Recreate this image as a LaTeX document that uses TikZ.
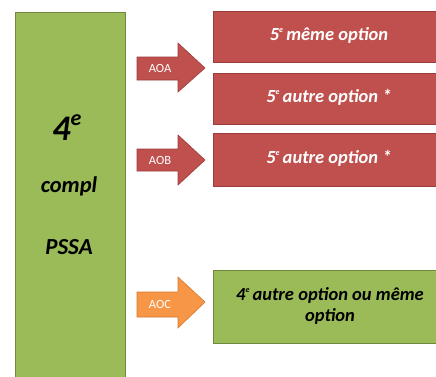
\documentclass[tikz,border=0pt]{standalone}
\usepackage{fontspec}
\setmainfont{Carlito}
\definecolor{offred}{HTML}{C0504D}
\definecolor{offredd}{HTML}{9A3D3A}
\definecolor{offgreen}{HTML}{9BBB59}
\definecolor{offgreend}{HTML}{71893F}
\definecolor{offorange}{HTML}{F79646}
\definecolor{offoranged}{HTML}{D7782E}
\newcommand{\supE}{\raisebox{8pt}{\fontsize{8}{8}\selectfont e}\,}
\tikzset{
  redbox/.style={draw=offredd, fill=offred, line width=0.8pt, minimum width=232pt, minimum height=51pt, anchor=north west},
  greenbox/.style={draw=offgreend, fill=offgreen, line width=0.8pt, anchor=north west},
  boxtext/.style={font=\bfseries\itshape\fontsize{18.5}{21}\selectfont},
  lbl/.style={text=white, font=\fontsize{12.5}{13}\selectfont},
  redarrow/.style={fill=offred, draw=offredd, line width=0.6pt},
  orangearrow/.style={fill=offorange, draw=offoranged, line width=0.6pt},
}
\begin{document}
\begin{tikzpicture}[x=1pt,y=-1pt]
\clip (0,0) rectangle (436,376);
\fill[white] (0,0) rectangle (436,376);
% left tall box
\node[greenbox, minimum width=110pt, minimum height=380pt] (left) at (15,12) {};
\node[font=\bfseries\itshape\fontsize{36}{38}\selectfont] (four) at (67,128) {4\raisebox{15pt}{\fontsize{22}{22}\selectfont e}};
\node[font=\bfseries\itshape\fontsize{22.5}{25}\selectfont] (compl) at (69,186) {compl};
\node[font=\bfseries\itshape\fontsize{23}{25}\selectfont] (pssa) at (69,247) {PSSA};
% right boxes
\node[redbox] (r1) at (213,11) {};
\node[redbox] (r2) at (213,73) {};
\node[redbox, minimum height=53pt] (r3) at (213,133) {};
\node[greenbox, minimum width=232pt, minimum height=73pt] (g4) at (213,270) {};
\node[text=white, boxtext] (t1) at (329,35) {5\supE même option};
\node[text=white, boxtext] (t2) at (329,97) {5\supE autre option *};
\node[text=white, boxtext] (t3) at (329,158) {5\supE autre option *};
\node[text=black, boxtext, align=center] (t4) at (330,306) {4\supE autre option ou même\\option};
% arrows
\draw[redarrow] (137,57) -- (178,57) -- (178,43) -- (205,68) -- (178,92) -- (178,80) -- (137,80) -- cycle;
\node[lbl] (aoa) at (160,68.5) {AOA};
\draw[redarrow] (137,149) -- (178,149) -- (178,135) -- (205,160) -- (178,185) -- (178,171) -- (137,171) -- cycle;
\node[lbl] (aob) at (160,160) {AOB};
\draw[orangearrow] (137,292) -- (178,292) -- (178,277) -- (205,302) -- (178,328) -- (178,317) -- (137,317) -- cycle;
\node[lbl] (aoc) at (160,304.5) {AOC};
\end{tikzpicture}
\end{document}
